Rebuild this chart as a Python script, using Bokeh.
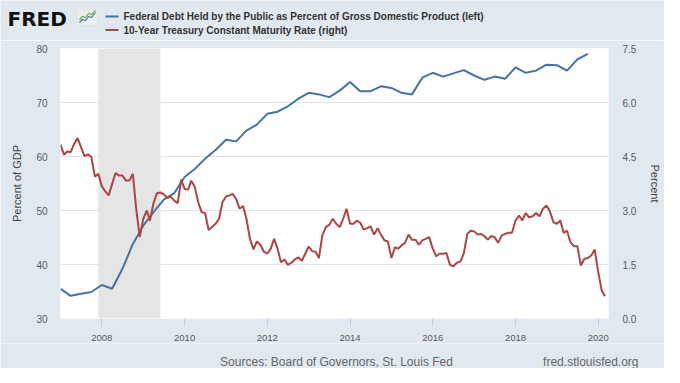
import pandas as pd
from bokeh.plotting import figure
from bokeh.layouts import column
from bokeh.models import (Range1d, LinearAxis, FixedTicker, DatetimeTickFormatter,
                          NumeralTickFormatter, BoxAnnotation, Label, Plot)
from bokeh.embed import file_html
from bokeh.resources import INLINE

# ---------------- data ----------------
debt_start = "2007-01-01"   # quarterly
debt_pct_gdp = [
    35.5, 34.2, 34.6, 34.9,
    36.2, 35.5, 39.2, 43.8,
    47.2, 49.7, 52.0, 53.2,
    56.2, 57.7, 59.6, 61.2,
    63.1, 62.8, 64.8, 65.9,
    67.9, 68.3, 69.3, 70.7,
    71.8, 71.5, 71.0, 72.2,
    73.8, 72.1, 72.1, 73.0,
    72.7, 71.8, 71.5, 74.6,
    75.5, 74.8, 75.4, 76.0,
    75.0, 74.2, 74.8, 74.4,
    76.5, 75.5, 75.9, 77.0,
    76.9, 75.9, 78.0, 79.0,
]

rate_start = "2007-01-01"   # monthly
treasury_10y = [
    4.83, 4.55, 4.64, 4.62, 4.85, 5.01, 4.76, 4.51, 4.56, 4.48, 3.94, 4.02,
    3.67, 3.53, 3.42, 3.74, 4.04, 3.97, 3.97, 3.83, 3.83, 4.02, 3.00, 2.26,
    2.77, 3.00, 2.72, 3.20, 3.48, 3.50, 3.45, 3.35, 3.38, 3.28, 3.20, 3.86,
    3.60, 3.58, 3.83, 3.65, 3.23, 2.95, 2.93, 2.46, 2.54, 2.63, 2.77, 3.23,
    3.39, 3.42, 3.46, 3.32, 3.05, 3.12, 2.77, 2.21, 1.92, 2.14, 2.05, 1.86,
    1.80, 1.94, 2.21, 1.94, 1.56, 1.64, 1.49, 1.55, 1.64, 1.70, 1.60, 1.80,
    2.00, 1.87, 1.86, 1.68, 2.31, 2.54, 2.60, 2.77, 2.63, 2.54, 2.77, 3.05,
    2.63, 2.63, 2.72, 2.66, 2.47, 2.51, 2.56, 2.33, 2.51, 2.33, 2.17, 2.14,
    1.68, 1.98, 1.94, 2.03, 2.10, 2.33, 2.19, 2.19, 2.05, 2.17, 2.21, 2.26,
    1.94, 1.73, 1.80, 1.80, 1.82, 1.49, 1.45, 1.55, 1.58, 1.80, 2.35, 2.44,
    2.42, 2.33, 2.35, 2.29, 2.19, 2.29, 2.26, 2.10, 2.31, 2.35, 2.38, 2.38,
    2.72, 2.86, 2.72, 2.93, 2.81, 2.84, 2.93, 2.84, 3.05, 3.14, 2.97, 2.68,
    2.63, 2.72, 2.38, 2.44, 2.12, 2.01, 2.01, 1.47, 1.66, 1.68, 1.75, 1.92,
    1.30, 0.78, 0.62,
]

recession_start = "2007-12-01"
recession_end = "2009-06-01"

x_start = "2007-01-01"
x_end = "2020-04-01"
left_ticks = [30, 40, 50, 60, 70, 80]
right_ticks = [0.0, 1.5, 3.0, 4.5, 6.0, 7.5]
year_ticks = [2008, 2010, 2012, 2014, 2016, 2018, 2020]

series_names = [
    "Federal Debt Held by the Public as Percent of Gross Domestic Product (left)",
    "10-Year Treasury Constant Maturity Rate (right)",
]
left_title = "Percent of GDP"
right_title = "Percent"
source_text = "Sources: Board of Governors, St. Louis Fed"
site_text = "fred.stlouisfed.org"

# ---------------- style / layout ----------------
BG = "#e1e9f0"
BLUE = "#4572a7"
RED = "#aa4643"
GREEN = "#6aa84f"
FONT = "Liberation Sans"
HEAD_H = 40                          # header strip height
FL, FW, BR = 60, 548, 56             # main: left border, frame width, right border
BT, FH, BB = 8, 270, 24              # main: top border, frame height, bottom border
W = FL + FW + BR
MAIN_H = BT + FH + BB
FOOT_H = 25
HAS_FRAME_ALIGN = "frame_align" in Plot.properties()


def ms(d):
    return pd.Timestamp(d).value / 1e6


def no_align(f):
    if HAS_FRAME_ALIGN:
        f.frame_align = False
    return f


def strip(h):
    """Axis-less strip whose data units equal its pixels (y downwards)."""
    f = figure(width=W, height=h, x_range=Range1d(0, W), y_range=Range1d(h, 0),
               output_backend="svg", toolbar_location=None,
               x_axis_location=None, y_axis_location=None,
               background_fill_color=BG, border_fill_color=BG,
               outline_line_color=None, min_border=0,
               min_border_left=0, min_border_right=0,
               min_border_top=0, min_border_bottom=0)
    f.grid.visible = False
    return no_align(f)


# ---------------- main chart ----------------
debt_dates = pd.date_range(debt_start, periods=len(debt_pct_gdp), freq="QS")
rate_dates = pd.date_range(rate_start, periods=len(treasury_10y), freq="MS")

p = figure(frame_width=FW, frame_height=FH, x_axis_type="datetime",
           x_range=Range1d(ms(x_start), ms(x_end)), y_range=Range1d(30, 80),
           output_backend="svg", toolbar_location=None,
           background_fill_color="white", border_fill_color=BG,
           outline_line_color=None,
           min_border_left=FL, min_border_right=BR,
           min_border_top=BT, min_border_bottom=BB)
no_align(p)
p.extra_y_ranges = {"rate": Range1d(0, 7.5)}

p.add_layout(BoxAnnotation(left=ms(recession_start), right=ms(recession_end),
                           fill_color="#e5e5e5", fill_alpha=1.0, line_color=None,
                           level="underlay"))

p.line(debt_dates, debt_pct_gdp, color=BLUE, line_width=2)
p.line(rate_dates, treasury_10y, color=RED, line_width=2, y_range_name="rate")

p.xgrid.visible = False
p.ygrid.grid_line_color = "#e4e4e4"
p.ygrid.ticker = FixedTicker(ticks=left_ticks)

ya = p.yaxis[0]
ya.ticker = FixedTicker(ticks=left_ticks)
ya.axis_label = left_title

ra = LinearAxis(y_range_name="rate", ticker=FixedTicker(ticks=right_ticks),
                formatter=NumeralTickFormatter(format="0.0"), axis_label=right_title)
p.add_layout(ra, "right")

for ax in (ya, ra):
    ax.axis_line_color = None
    ax.major_tick_line_color = None
    ax.major_tick_out = 0
    ax.major_tick_in = 0
    ax.minor_tick_line_color = None
    ax.minor_tick_out = 0
    ax.minor_tick_in = 0
    ax.major_label_text_font = FONT
    ax.major_label_text_font_size = "10px"
    ax.major_label_text_color = "#595959"
    ax.axis_label_text_font = FONT
    ax.axis_label_text_font_size = "11px"
    ax.axis_label_text_font_style = "normal"
    ax.axis_label_text_color = "#404040"
ya.major_label_standoff = 13
ya.axis_label_standoff = 10
ra.major_label_standoff = 14
ra.axis_label_standoff = 10

xa = p.xaxis[0]
xa.ticker = FixedTicker(ticks=[ms(f"{y}-01-01") for y in year_ticks])
xa.formatter = DatetimeTickFormatter(years="%Y", months="%Y", days="%Y")
xa.axis_line_color = None
xa.major_tick_line_color = "#c0d0e0"
xa.major_tick_in = 0
xa.major_tick_out = 8
xa.minor_tick_line_color = None
xa.minor_tick_out = 0
xa.major_label_standoff = 8
xa.major_label_text_font = FONT
xa.major_label_text_font_size = "9.5px"
xa.major_label_text_color = "#595959"

# ---------------- header ----------------
head = strip(HEAD_H)
head.add_layout(Label(x=7, y=18, text="FRED", text_baseline="middle",
                      text_font="DejaVu Sans", text_font_style="bold",
                      text_font_size="20px", text_color="#111111"))
# small FRED graph icon
head.add_layout(BoxAnnotation(left=77, right=97, top=9, bottom=25, level="underlay",
                              fill_color="#eceee9", fill_alpha=1, line_color="#d5dbd2"))
head.line([79, 82, 85, 88, 91, 95], [22, 19, 20, 16, 17, 12], color=BLUE, line_width=1.2)
head.line([79, 82, 85, 88, 91, 95], [19, 16, 17, 13, 14, 10], color=GREEN, line_width=1.2)

for i, (name, col) in enumerate(zip(series_names, [BLUE, RED])):
    yy = 16 + i * 13.5
    head.segment(x0=[105], x1=[118], y0=[yy], y1=[yy], color=col, line_width=2)
    head.add_layout(Label(x=123, y=yy, text=name, text_baseline="middle",
                          text_font=FONT, text_font_style="bold",
                          text_font_size="10px", text_color="#333333"))

# ---------------- footer ----------------
foot = strip(FOOT_H)
fy = 360 - (HEAD_H + MAIN_H)
foot.add_layout(Label(x=336, y=fy, text=source_text, text_baseline="middle",
                      text_align="center", text_font=FONT, text_font_size="12px",
                      text_color="#666666"))
foot.add_layout(Label(x=638, y=fy, text=site_text, text_baseline="middle",
                      text_align="right", text_font=FONT, text_font_size="12px",
                      text_color="#666666"))

page = column(head, p, foot, spacing=0)
open("out.html", "w").write(file_html(page, INLINE))
